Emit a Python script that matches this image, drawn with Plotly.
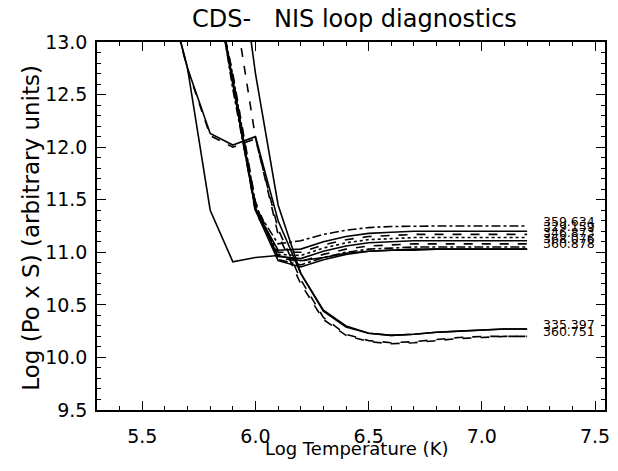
import plotly.graph_objects as go

# log T grid (K)
logt = [5.6, 5.7, 5.8, 5.9, 6.0, 6.1, 6.2, 6.3, 6.4, 6.5, 6.6, 6.7, 6.8, 6.9, 7.0, 7.1, 7.2]

# upper group (ends near 11.0 - 11.25)
b1 = [None, None, 13.9, 12.55, 11.42, 11.08, 11.11, 11.17, 11.21, 11.235, 11.245, 11.25, 11.25, 11.25, 11.25, 11.25, 11.25]
b2 = [None, None, 13.8, 12.62, 11.40, 11.02, 11.03, 11.10, 11.15, 11.18, 11.19, 11.20, 11.20, 11.20, 11.20, 11.20, 11.20]
b3 = [None, None, 13.85, 12.60, 11.38, 11.00, 11.00, 11.07, 11.12, 11.15, 11.16, 11.17, 11.17, 11.17, 11.17, 11.17, 11.17]
b4 = [None, None, 13.75, 12.68, 11.45, 10.98, 10.97, 11.04, 11.09, 11.12, 11.13, 11.14, 11.14, 11.14, 11.14, 11.14, 11.14]
b5 = [None, None, 13.8, 12.64, 11.42, 10.96, 10.94, 11.01, 11.06, 11.09, 11.10, 11.11, 11.11, 11.11, 11.11, 11.11, 11.11]
b6 = [None, None, 13.7, 12.70, 11.48, 10.95, 10.91, 10.98, 11.03, 11.06, 11.07, 11.08, 11.08, 11.08, 11.08, 11.08, 11.08]
b7 = [None, None, 13.75, 12.66, 11.46, 10.93, 10.88, 10.95, 11.00, 11.03, 11.04, 11.05, 11.05, 11.05, 11.05, 11.05, 11.05]
b8 = [None, None, 13.8, 12.60, 11.40, 10.92, 10.86, 10.93, 10.98, 11.01, 11.02, 11.03, 11.03, 11.03, 11.03, 11.03, 11.03]
c1 = [13.58, 12.75, 11.40, 10.91, 10.95, 10.97, 10.92, 10.95, 10.99, 11.01, 11.02, 11.02, 11.03, 11.03, 11.03, 11.03, 11.03]

# lower group (ends near 10.2)
l1 = [13.58, 12.75, 12.13, 12.02, 12.10, 11.30, 10.80, 10.45, 10.30, 10.23, 10.21, 10.22, 10.24, 10.25, 10.26, 10.27, 10.27]
l2 = [13.57, 12.74, 12.11, 12.00, 12.08, 11.22, 10.74, 10.38, 10.22, 10.16, 10.14, 10.15, 10.17, 10.19, 10.20, 10.20, 10.20]
s1 = [None, None, None, 13.45, 12.09, 11.17, 10.70, 10.36, 10.21, 10.15, 10.13, 10.14, 10.16, 10.18, 10.19, 10.20, 10.20]
s2 = [None, None, None, 14.3, 12.70, 11.45, 10.80, 10.44, 10.29, 10.23, 10.21, 10.22, 10.24, 10.25, 10.26, 10.27, 10.27]

curves = [
    (b1, 'dashdot'), (b2, 'solid'), (b3, 'dash'), (b4, 'dot'), (b5, 'solid'),
    (b6, 'dash'), (b7, 'dashdot'), (b8, 'solid'), (c1, 'solid'),
    (l1, 'solid'), (l2, 'dash'), (s1, 'dash'), (s2, 'solid'),
]

# wavelength labels at the right end
label_text = ['359.634', '329.159', '346.873', '368.076', '360.878', '335.397', '360.751']
label_y = [11.25, 11.20, 11.14, 11.08, 11.04, 10.27, 10.20]

font = 'DejaVu Sans'

fig = go.Figure()
for ys, dash in curves:
    fig.add_trace(go.Scatter(x=logt, y=ys, mode='lines',
                             line=dict(color='black', width=1.6, dash=dash),
                             connectgaps=False, showlegend=False, hoverinfo='skip'))

for t, yv in zip(label_text, label_y):
    fig.add_annotation(x=7.26, y=yv, text=t, showarrow=False, xanchor='left', yanchor='middle',
                       yshift=5, font=dict(size=12.5, color='black', family=font))

# titles as paper annotations
fig.add_annotation(x=0.507, y=1.062, xref='paper', yref='paper', text='CDS-   NIS loop diagnostics',
                   showarrow=False, xanchor='center', yanchor='middle',
                   font=dict(family=font, size=24, color='black'))
fig.add_annotation(x=0.511, y=-0.105, xref='paper', yref='paper', text='Log Temperature (K)',
                   showarrow=False, xanchor='center', yanchor='middle',
                   font=dict(family=font, size=18, color='black'))
fig.add_annotation(x=-0.1306, y=0.4946, xref='paper', yref='paper', text='Log (Po x S) (arbitrary units)',
                   showarrow=False, xanchor='center', yanchor='middle', textangle=-90,
                   font=dict(family=font, size=23, color='black'))

axis_font = dict(family=font, size=19, color='black')
fig.update_layout(
    width=602, height=455,
    paper_bgcolor='white', plot_bgcolor='white',
    margin=dict(l=89, r=0, t=34, b=53),
    font=dict(family=font, color='black'),
    xaxis=dict(range=[5.3, 7.544], tickvals=[5.5, 6.0, 6.5, 7.0, 7.5], ticktext=['5.5', '6.0', '6.5', '7.0', '7.5'],
               ticks='inside', ticklen=9, tickcolor='black', tickwidth=1.2,
               minor=dict(dtick=0.1, tick0=5.3, ticks='inside', ticklen=4, tickcolor='black', tickwidth=1),
               showline=True, linecolor='black', linewidth=1.5, mirror='ticks', showgrid=False, zeroline=False,
               tickfont=axis_font, ticklabelstandoff=8, ticklabeloverflow='allow'),
    yaxis=dict(range=[9.5, 13.0], tickvals=[9.5, 10.0, 10.5, 11.0, 11.5, 12.0, 12.5, 13.0],
               ticktext=['9.5', '10.0', '10.5', '11.0', '11.5', '12.0', '12.5', '13.0'],
               ticks='inside', ticklen=9, tickcolor='black', tickwidth=1.2,
               minor=dict(dtick=0.1, tick0=9.5, ticks='inside', ticklen=4, tickcolor='black', tickwidth=1),
               showline=True, linecolor='black', linewidth=1.5, mirror='ticks', showgrid=False, zeroline=False,
               tickfont=axis_font, ticklabelstandoff=4),
)

fig.write_html("out.html")
